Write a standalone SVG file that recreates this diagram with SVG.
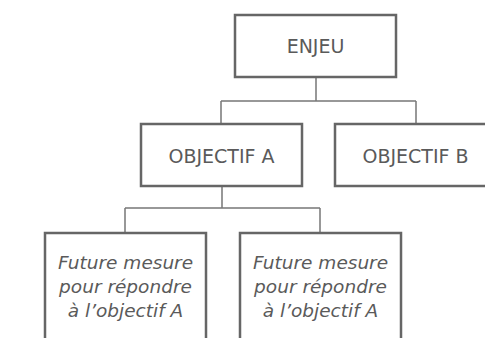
<svg xmlns="http://www.w3.org/2000/svg" width="485" height="338" viewBox="0 0 485 338">
<style>
.box{fill:#fff;stroke:#666;stroke-width:2.5}
.lbl{font-family:"DejaVu Sans",sans-serif;font-size:19px;fill:#5a5a5a;text-anchor:middle}
.it{font-family:"DejaVu Sans",sans-serif;font-size:18.5px;font-style:italic;fill:#5a5a5a;text-anchor:middle}
.con{fill:none;stroke:#777;stroke-width:1.5}
</style>
<rect width="485" height="338" fill="#fff"/>
<g id="connectors">
<path class="con" d="M316 77V101M221 101H416M221 101V124M416 101V124"/>
<path class="con" d="M222 187V208M125 208H320M125 208V233M320 208V233"/>
</g>
<g id="enjeu">
<rect class="box" x="235" y="15" width="161" height="62"/>
<text class="lbl" x="315.5" y="53">ENJEU</text>
</g>
<g id="objectifA">
<rect class="box" x="141" y="124" width="161" height="62"/>
<text class="lbl" x="221.5" y="162.5">OBJECTIF A</text>
</g>
<g id="objectifB">
<rect class="box" x="335" y="124" width="161" height="62"/>
<text class="lbl" x="415.5" y="162.5">OBJECTIF B</text>
</g>
<g id="mesure1">
<rect class="box" x="45" y="233" width="161" height="120"/>
<text class="it" x="125.5" y="268.5">Future mesure</text>
<text class="it" x="125.5" y="292.5">pour répondre</text>
<text class="it" x="125.5" y="316.5">à l’objectif A</text>
</g>
<g id="mesure2">
<rect class="box" x="240" y="233" width="161" height="120"/>
<text class="it" x="320.5" y="268.5">Future mesure</text>
<text class="it" x="320.5" y="292.5">pour répondre</text>
<text class="it" x="320.5" y="316.5">à l’objectif A</text>
</g>
</svg>
